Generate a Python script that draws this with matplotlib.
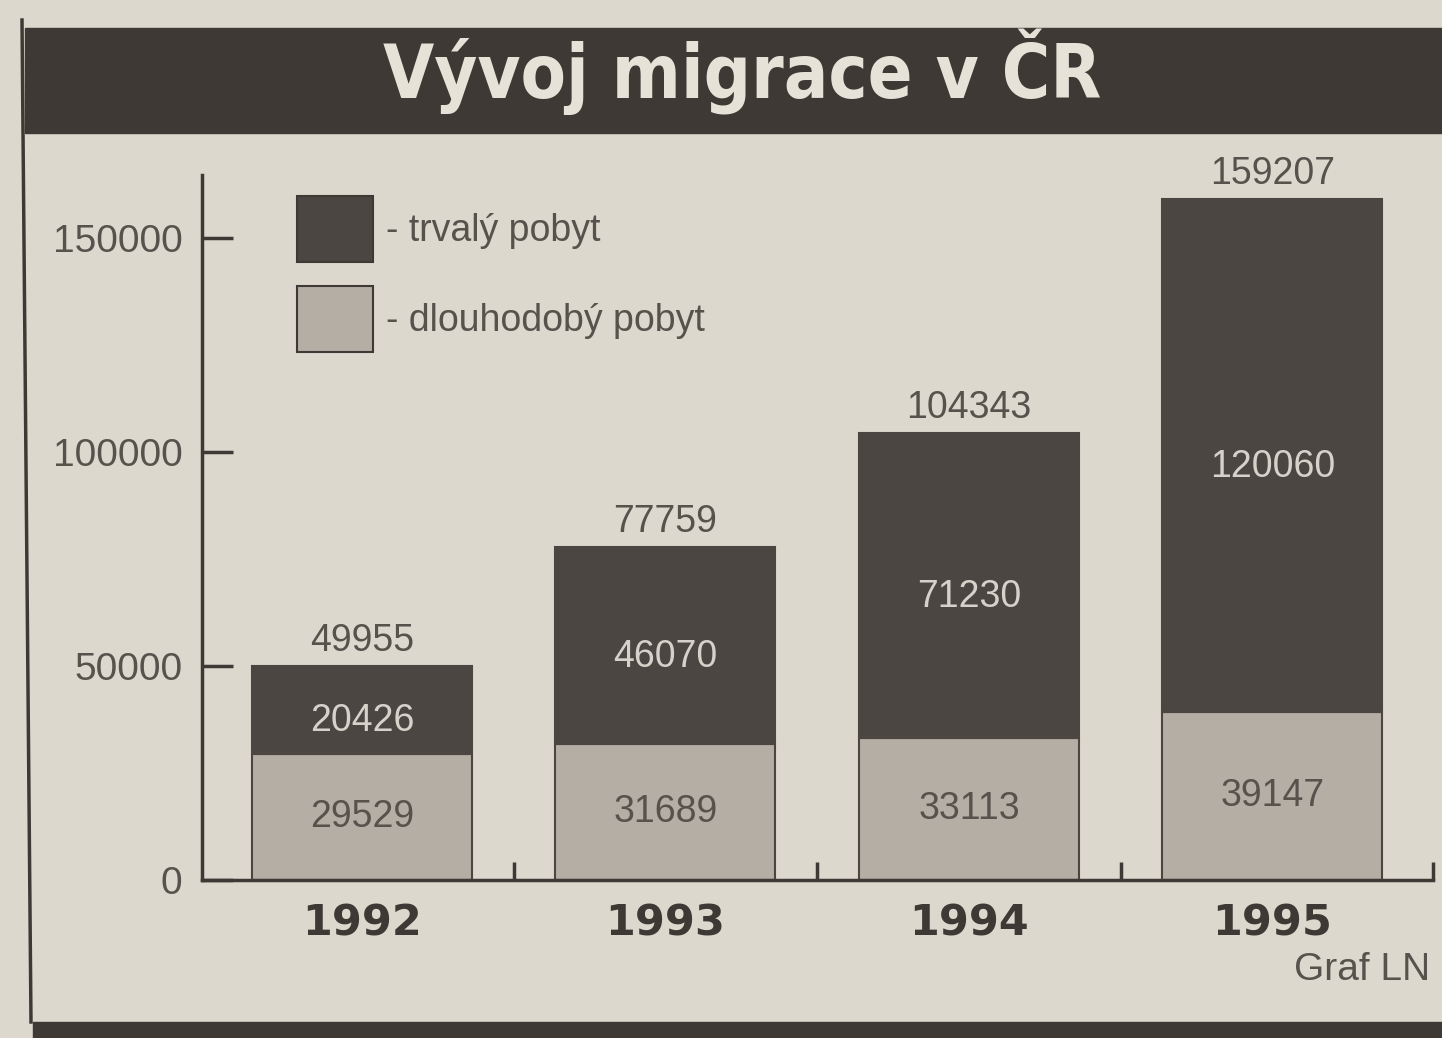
import matplotlib
matplotlib.use("Agg")
import matplotlib.pyplot as plt
from matplotlib.patches import Rectangle, Patch
from matplotlib.lines import Line2D

# ==========================
# DATA
# ==========================

years = ["1992", "1993", "1994", "1995"]
dlouhodoby = [29529, 31689, 33113, 39147]
trvaly = [20426, 46070, 71230, 120060]
totals = [49955, 77759, 104343, 159207]

y_ticks = [0, 50000, 100000, 150000]

title = "Vývoj migrace v ČR"
legend_labels = ["- trvalý pobyt", "- dlouhodobý pobyt"]
source = "Graf LN"

# ==========================
# COLOURS / FONTS
# ==========================

paper = "#dcd8ce"
ink = "#3e3934"
dark_bar = "#4b4641"
light_bar = "#b4aea5"
text_gray = "#57524c"
light_text = "#d6d2c9"

sans = ["Liberation Sans", "DejaVu Sans"]

W, H = 1442, 1038
fig = plt.figure(figsize=(W / 100, H / 100), dpi=100, facecolor=paper)

# title bar + bottom bar + left rule
fig.patches.append(Rectangle((25 / W, 1 - 133 / H), 1 - 25 / W, 105 / H,
                             transform=fig.transFigure, color=ink, zorder=0))
fig.patches.append(Rectangle((33 / W, 0), 1 - 33 / W, 16 / H,
                             transform=fig.transFigure, color=ink, zorder=0))
fig.lines.append(Line2D([22 / W, 31 / W], [1 - 20 / H, 1 - 1022 / H],
                        transform=fig.transFigure, color=ink, lw=2.5))

fig.text(742 / W, 1 - 72 / H, title, ha="center", va="center",
         fontsize=53, fontweight="bold", family="DejaVu Sans",
         fontstretch="condensed", color="#e6e2d8")

# ==========================
# AXES
# ==========================

ax = fig.add_axes([202 / W, 1 - 880 / H, (1433 - 202) / W, (880 - 175) / H])
ax.set_facecolor("none")

x = list(range(len(years)))
bw = 0.725
x_lo, x_hi = -0.527, 3.529

ax.bar(x, dlouhodoby, width=bw, color=light_bar, edgecolor=dark_bar, linewidth=1.5)
ax.bar(x, trvaly, width=bw, bottom=dlouhodoby, color=dark_bar,
       edgecolor=dark_bar, linewidth=1.5)

for i in x:
    ax.annotate(str(totals[i]), (i, totals[i]), xytext=(0, 18),
                textcoords="offset points", ha="center", va="center",
                fontsize=27, family=sans, color=text_gray)
    ax.annotate(str(trvaly[i]), (i, dlouhodoby[i] + trvaly[i] / 2), xytext=(0, -8),
                textcoords="offset points", ha="center", va="center",
                fontsize=27, family=sans, color=light_text)
    ax.annotate(str(dlouhodoby[i]), (i, dlouhodoby[i] / 2), xytext=(0, 0),
                textcoords="offset points", ha="center", va="center",
                fontsize=27, family=sans, color=text_gray)

ax.set_xlim(x_lo, x_hi)
ax.set_ylim(0, 164700)

ax.spines["top"].set_visible(False)
ax.spines["right"].set_visible(False)
ax.spines["left"].set_color(ink)
ax.spines["bottom"].set_color(ink)
ax.spines["left"].set_linewidth(2.5)
ax.spines["bottom"].set_linewidth(2.5)

ax.set_yticks(y_ticks)
ax.set_yticklabels([str(v) for v in y_ticks], family=sans, fontsize=28,
                   color=text_gray)
ax.tick_params(axis="y", direction="in", length=22, width=2.5, color=ink, pad=14)

ax.set_xticks(x)
ax.set_xticklabels(years, fontsize=31, fontweight="bold",
                   family="DejaVu Sans", color=ink)
ax.tick_params(axis="x", which="major", length=0, pad=16)
ax.set_xticks([0.5, 1.5, 2.5, x_hi], minor=True)
ax.tick_params(axis="x", which="minor", direction="in", length=13, width=2.5,
               color=ink)

# legend
handles = [Patch(facecolor=dark_bar, edgecolor=ink, linewidth=1.5),
           Patch(facecolor=light_bar, edgecolor=ink, linewidth=1.5)]
leg = ax.legend(handles, legend_labels, loc="upper left",
                bbox_to_anchor=(297 / W, 1 - 196 / H),
                bbox_transform=fig.transFigure, frameon=False,
                prop={"family": sans, "size": 27},
                handlelength=2.03, handleheight=2.33, handletextpad=0.35,
                labelspacing=0.64, borderpad=0, borderaxespad=0)
for t in leg.get_texts():
    t.set_color(text_gray)

fig.text(1430 / W, 1 - 970 / H, source, ha="right", va="center",
         fontsize=28, family=sans, color=text_gray)

fig.savefig("out.png", dpi=100, facecolor=paper)
